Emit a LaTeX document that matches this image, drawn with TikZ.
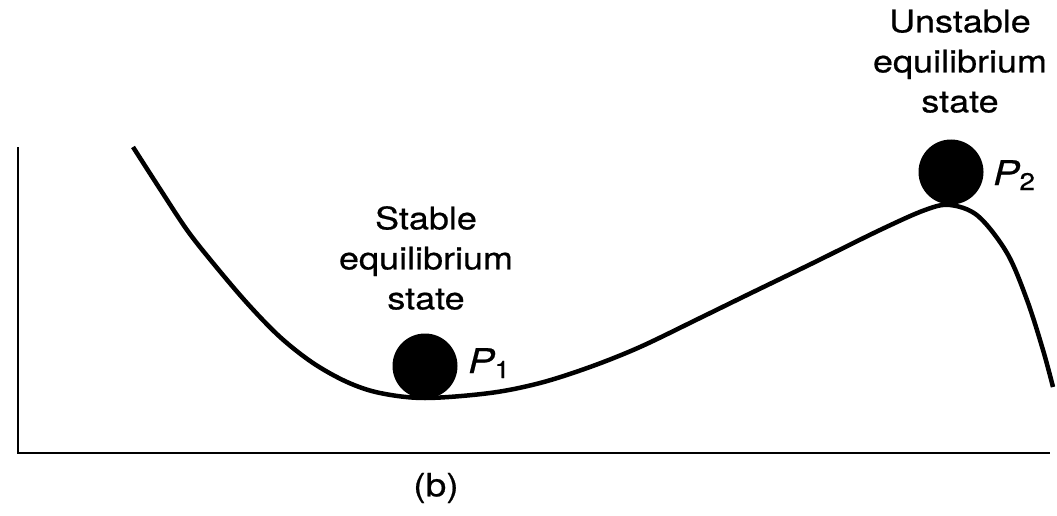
\documentclass[tikz,border=0pt]{standalone}
\usepackage{fontspec}
\setmainfont{TeX Gyre Heros}
\newfontfamily\widefont[FakeStretch=1.16, FakeBold=0.6]{TeX Gyre Heros}
\usetikzlibrary{positioning}

\begin{document}
\begin{tikzpicture}[x=1pt, y=-1pt,
    ball/.style={circle, fill=black, inner sep=0pt, minimum size=65pt},
    statelabel/.style={align=center, inner sep=0pt, anchor=south,
      font=\widefont\fontsize{31}{40}\selectfont},
    plabel/.style={inner sep=0pt, anchor=base west,
      font=\widefont\fontsize{34}{34}\selectfont\itshape}]
  \useasboundingbox (0,0) rectangle (1057,516);

  % axes
  \coordinate (ytop) at (18,147);
  \coordinate (origin) at (18,453);
  \coordinate (xend) at (1050,453);
  \draw[line width=2pt] (ytop) -- (origin) -- (xend);

  % potential curve
  \draw[line width=4.5pt] plot[smooth, tension=0.55] coordinates {
    (133,147) (160,189) (187,230) (213,263) (247,303) (280,337)
    (313,363) (347,382) (380,393) (425,398) (490,393) (540,383)
    (590,367) (640,347) (700,318) (747,295) (813,263) (880,230)
    (925,210) (950,205) (978,216) (1007,253) (1027,300) (1043,350)
    (1053,387)};

  % balls
  \node[ball] (p1ball) at (425,366) {};
  \node[ball] (p2ball) at (951,172) {};
  \node[plabel] (p1) at (468,373) {P\raisebox{-5pt}{\upshape\fontsize{24}{24}\selectfont 1}};
  \node[plabel] (p2) at (993,185) {P\raisebox{-5pt}{\upshape\fontsize{24}{24}\selectfont 2}};

  % labels
  \node[statelabel] (stablelabel) at (426,310) {Stable\\equilibrium\\state};
  \node[statelabel] (unstablelabel) at (960,113) {Unstable\\equilibrium\\state};
  \node[inner sep=0pt, font=\widefont\fontsize{32}{32}\selectfont] (caption) at (436,488) {(b)};
\end{tikzpicture}
\end{document}
